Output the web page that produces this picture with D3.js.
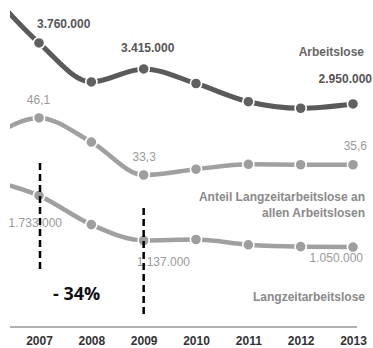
<!DOCTYPE html>
<html>
<head>
<meta charset="utf-8">
<script src="https://cdn.jsdelivr.net/npm/d3@7"></script>
<style>
  html, body { margin: 0; padding: 0; background: #fff; }
  svg { display: block; }
</style>
</head>
<body>
<svg id="chart" width="373" height="348"></svg>
<script>
// ---- data ----
const years = [2006, 2007, 2008, 2009, 2010, 2011, 2012, 2013];
const tickYears = [2007, 2008, 2009, 2010, 2011, 2012, 2013];
const arbeitslose = [4487, 3760, 3242, 3415, 3222, 2980, 2893, 2950];      // thousands
const anteil = [41.0, 46.1, 40.7, 33.3, 34.6, 35.7, 35.6, 35.6];            // percent
const langzeit = [1950, 1733, 1348, 1137, 1150, 1080, 1055, 1050];          // thousands
const valueLabels = [
  { series: "a", year: 2007, text: "3.760.000" },
  { series: "a", year: 2009, text: "3.415.000" },
  { series: "a", year: 2013, text: "2.950.000" },
  { series: "p", year: 2007, text: "46,1" },
  { series: "p", year: 2009, text: "33,3" },
  { series: "p", year: 2013, text: "35,6" },
  { series: "l", year: 2007, text: "1.733.000" },
  { series: "l", year: 2009, text: "1.137.000" },
  { series: "l", year: 2013, text: "1.050.000" }
];
const pctChange = "- 34%";

// ---- scales ----
const svg = d3.select("#chart");
const x = d3.scaleLinear().domain([2007, 2013]).range([39, 353]);
const yCount = d3.scaleLinear().domain([1000, 4000]).range([250.8, 24.9]);
const yPct = d3.scaleLinear().domain([30, 50]).range([189.7, 100.6]);

svg.append("defs").append("clipPath").attr("id", "clip")
  .append("rect").attr("x", 10).attr("y", 0).attr("width", 363).attr("height", 348);

const plot = svg.append("g").attr("clip-path", "url(#clip)");

function drawSeries(values, yScale, lineColor, dotColor, width) {
  const pts = years.map((yr, i) => ({ yr, v: values[i] }));
  const line = d3.line().x(d => x(d.yr)).y(d => yScale(d.v)).curve(d3.curveMonotoneX);
  plot.append("path").datum(pts)
    .attr("d", line).attr("fill", "none")
    .attr("stroke", lineColor).attr("stroke-width", width).attr("stroke-linecap", "round");
  plot.selectAll(null).data(pts.filter(d => d.yr >= 2007)).enter().append("circle")
    .attr("cx", d => x(d.yr)).attr("cy", d => yScale(d.v)).attr("r", 5.6)
    .attr("fill", dotColor).attr("stroke", "#fff").attr("stroke-width", 1.6);
}

drawSeries(arbeitslose, yCount, "#5a5a5a", "#606060", 5);
drawSeries(anteil, yPct, "#a0a0a0", "#9e9e9e", 4.5);
drawSeries(langzeit, yCount, "#a0a0a0", "#9e9e9e", 4.5);

// ---- value labels ----
const font = "'Liberation Sans', Arial, sans-serif";
function lab(txt, xx, yy, anchor, color, weight, size) {
  svg.append("text").attr("x", xx).attr("y", yy).attr("text-anchor", anchor)
    .attr("fill", color).attr("font-family", font).attr("font-weight", weight)
    .attr("font-size", size).text(txt);
}
const vl = k => valueLabels.find(d => d.series === k.s && d.year === k.y).text;
lab(vl({s:"a",y:2007}), x(2007) - 2, yCount(3760) - 15, "start", "#555", "bold", 12);
lab(vl({s:"a",y:2009}), x(2009) + 4, yCount(3415) - 17, "middle", "#555", "bold", 12);
lab(vl({s:"a",y:2013}), x(2013) + 19, yCount(2950) - 21, "end", "#555", "bold", 12);
lab("Arbeitslose", 364, 56, "end", "#666", "bold", 12);

lab(vl({s:"p",y:2007}), x(2007) - 0.5, yPct(46.1) - 14, "middle", "#9a9a9a", "normal", 12);
lab(vl({s:"p",y:2009}), x(2009) + 0.5, yPct(33.3) - 14, "middle", "#9a9a9a", "normal", 12);
lab(vl({s:"p",y:2013}), x(2013) + 14, yPct(35.6) - 15, "end", "#9a9a9a", "normal", 12);
lab("Anteil Langzeitarbeitslose an", 365, 201, "end", "#8a8a8a", "bold", 12);
lab("allen Arbeitslosen", 365, 217, "end", "#8a8a8a", "bold", 12);

lab(vl({s:"l",y:2007}), x(2007) + 23, yCount(1733) + 31, "end", "#9a9a9a", "normal", 12);
lab(vl({s:"l",y:2009}), x(2009) - 7, yCount(1137) + 26, "start", "#9a9a9a", "normal", 12);
lab(vl({s:"l",y:2013}), x(2013) + 10, yCount(1050) + 15, "end", "#9a9a9a", "normal", 12);
lab("Langzeitarbeitslose", 365, 301, "end", "#8a8a8a", "bold", 12);

// ---- dashed markers ----
svg.append("line").attr("x1", x(2007) + 1).attr("x2", x(2007) + 1)
  .attr("y1", 163).attr("y2", 273)
  .attr("stroke", "#000").attr("stroke-width", 2.5).attr("stroke-dasharray", "7,4");
svg.append("line").attr("x1", x(2009)).attr("x2", x(2009))
  .attr("y1", 208).attr("y2", 318)
  .attr("stroke", "#000").attr("stroke-width", 2.5).attr("stroke-dasharray", "7,4");
svg.append("text").attr("x", 53).attr("y", 300)
  .attr("font-family", "'Open Sans', sans-serif").attr("font-weight", "bold")
  .attr("font-size", 18).attr("fill", "#111").text(pctChange);

// ---- x axis ----
const axis = d3.axisBottom(x).tickValues(tickYears).tickFormat(d3.format("d")).tickSize(0).tickPadding(9);
const gx = svg.append("g").attr("transform", "translate(0,327)").call(axis);
gx.select(".domain").remove();
gx.append("line").attr("x1", 10).attr("x2", 357).attr("y1", 0).attr("y2", 0)
  .attr("stroke", "#999").attr("stroke-width", 1.5);
gx.selectAll("text").attr("font-family", font).attr("font-weight", "bold")
  .attr("font-size", 12).attr("fill", "#333");
</script>
</body>
</html>
